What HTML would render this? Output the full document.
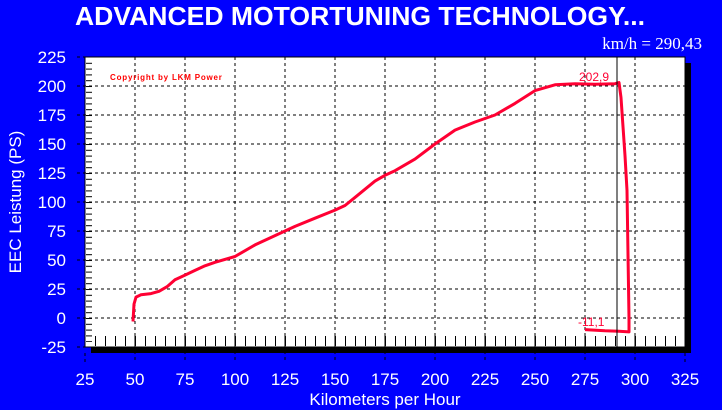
<!DOCTYPE html>
<html><head><meta charset="utf-8"><style>
html,body{margin:0;padding:0;background:#0000ff;width:722px;height:410px;overflow:hidden}
svg{display:block}
text{font-family:"Liberation Sans",Arial,sans-serif;fill:#fff}
</style></head><body>
<svg width="722" height="410" viewBox="0 0 722 410" xmlns="http://www.w3.org/2000/svg">
<defs>
<pattern id="bt" x="85" y="0" width="10" height="410" patternUnits="userSpaceOnUse"><rect x="0" y="0" width="1" height="410" fill="#000"/></pattern>
<pattern id="lt" x="0" y="57" width="722" height="5.8" patternUnits="userSpaceOnUse"><rect x="0" y="0" width="722" height="1" fill="#000"/></pattern>
</defs>
<rect width="722" height="410" fill="#0000ff"/>
<text x="360" y="25" font-size="26" font-weight="bold" text-anchor="middle" textLength="570" lengthAdjust="spacingAndGlyphs">ADVANCED MOTORTUNING TECHNOLOGY...</text>
<text x="702" y="49" font-size="17" text-anchor="end" style="font-family:'Liberation Serif',serif">km/h = 290,43</text>
<rect x="91" y="63" width="600" height="290" fill="#000"/>
<rect x="85" y="57" width="600" height="290" fill="#fff" stroke="#000" stroke-width="1"/>
<rect x="90" y="336" width="590" height="10" fill="url(#bt)"/>
<rect x="86" y="62" width="6" height="280" fill="url(#lt)"/>
<g stroke="#000" stroke-width="1" stroke-dasharray="3,3">
<line x1="135" y1="57" x2="135" y2="362"/><line x1="185" y1="57" x2="185" y2="362"/><line x1="235" y1="57" x2="235" y2="362"/><line x1="285" y1="57" x2="285" y2="362"/><line x1="335" y1="57" x2="335" y2="362"/><line x1="385" y1="57" x2="385" y2="362"/><line x1="435" y1="57" x2="435" y2="362"/><line x1="485" y1="57" x2="485" y2="362"/><line x1="535" y1="57" x2="535" y2="362"/><line x1="585" y1="57" x2="585" y2="362"/><line x1="635" y1="57" x2="635" y2="362"/>
<line x1="85" y1="353" x2="85" y2="362"/><line x1="685" y1="353" x2="685" y2="362"/>
<line x1="77" y1="86" x2="685" y2="86"/><line x1="77" y1="115" x2="685" y2="115"/><line x1="77" y1="144" x2="685" y2="144"/><line x1="77" y1="173" x2="685" y2="173"/><line x1="77" y1="202" x2="685" y2="202"/><line x1="77" y1="231" x2="685" y2="231"/><line x1="77" y1="260" x2="685" y2="260"/><line x1="77" y1="289" x2="685" y2="289"/><line x1="77" y1="318" x2="685" y2="318"/>
<line x1="77" y1="57" x2="85" y2="57"/><line x1="77" y1="347" x2="85" y2="347"/>
</g>
<g stroke="#000" stroke-width="1">
<line x1="135" y1="333" x2="135" y2="347"/><line x1="185" y1="333" x2="185" y2="347"/><line x1="235" y1="333" x2="235" y2="347"/><line x1="285" y1="333" x2="285" y2="347"/><line x1="335" y1="333" x2="335" y2="347"/><line x1="385" y1="333" x2="385" y2="347"/><line x1="435" y1="333" x2="435" y2="347"/><line x1="485" y1="333" x2="485" y2="347"/><line x1="535" y1="333" x2="535" y2="347"/><line x1="585" y1="333" x2="585" y2="347"/><line x1="635" y1="333" x2="635" y2="347"/>
</g>
<polyline fill="none" stroke="#ff0033" stroke-width="3" stroke-linejoin="round" points="133,321.5 134,304.1 136,297.1 141,294.8 151,293.6 159,291.3 167,286.7 175,279.7 185,275.1 195,270.4 205,265.8 215,262.3 235,256.5 255,244.9 275,235.6 295,226.4 315,218.2 335,210.1 345,205.5 355,197.4 375,181.1 385,175.3 395,170.7 415,159.1 435,144 455,130.1 475,122 485,118.5 495,115 515,103.4 535,90.6 555,84.8 575,83.7 595,84.3 615,83.7 619,82.5 621,97.6 625,155.6 627,190.4 629,318 629,331.9 619,331.3 605,330.8 585,329.6"/>
<line x1="617" y1="57" x2="617" y2="347" stroke="#000" stroke-width="1"/>
<text x="579" y="81" font-size="12" style="fill:#ff0033">202,9</text>
<text x="578" y="326" font-size="12" style="fill:#ff0033">-11,1</text>
<text x="110" y="80" font-size="8" font-weight="bold" style="fill:#ff0000" letter-spacing="0.8">Copyright by LKM Power</text>
<g font-size="17" text-anchor="end">
<text x="66" y="63">225</text><text x="66" y="92">200</text><text x="66" y="121">175</text><text x="66" y="150">150</text><text x="66" y="179">125</text><text x="66" y="208">100</text><text x="66" y="237">75</text><text x="66" y="266">50</text><text x="66" y="295">25</text><text x="66" y="324">0</text><text x="66" y="353">-25</text>
</g>
<g font-size="17" text-anchor="middle">
<text x="85" y="385">25</text><text x="135" y="385">50</text><text x="185" y="385">75</text><text x="235" y="385">100</text><text x="285" y="385">125</text><text x="335" y="385">150</text><text x="385" y="385">175</text><text x="435" y="385">200</text><text x="485" y="385">225</text><text x="535" y="385">250</text><text x="585" y="385">275</text><text x="635" y="385">300</text><text x="685" y="385">325</text>
</g>
<text x="385" y="405" font-size="17" text-anchor="middle">Kilometers per Hour</text>
<text transform="translate(21,202) rotate(-90)" font-size="17" text-anchor="middle">EEC Leistung (PS)</text>
</svg>
</body></html>
